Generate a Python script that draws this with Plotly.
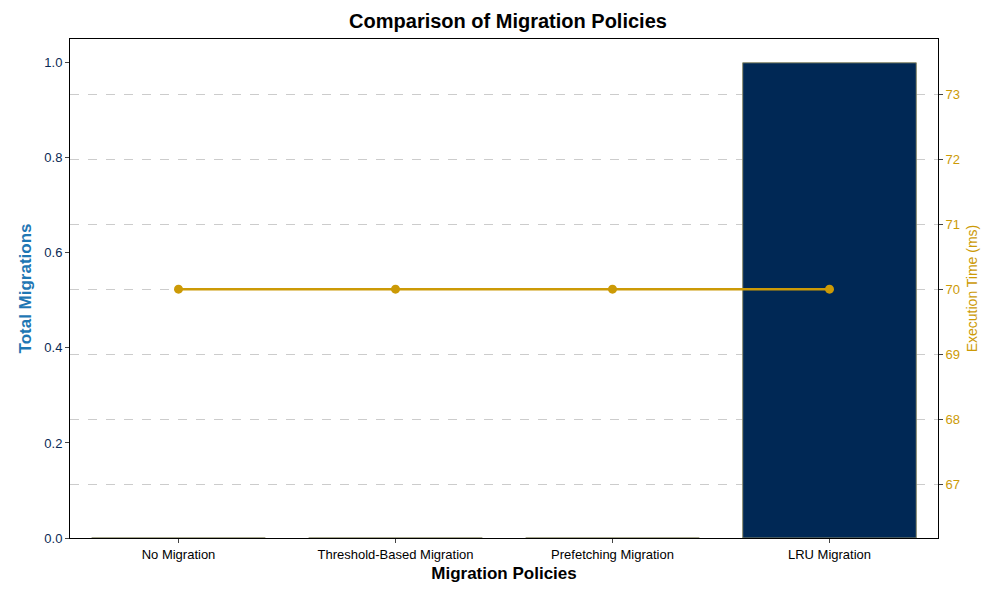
import plotly.graph_objects as go

policies = ["No Migration", "Threshold-Based Migration", "Prefetching Migration", "LRU Migration"]
migrations = [0, 0, 0, 1]
exec_time = [70, 70, 70, 70]

gold = "#CC9A06"
fig = go.Figure()
fig.add_trace(go.Bar(x=policies, y=migrations, marker=dict(color="#002855", line=dict(color="#8a8a6a", width=1)), width=0.8, yaxis="y"))
fig.add_trace(go.Scatter(x=policies, y=exec_time, mode="lines+markers", line=dict(color=gold, width=2.5), marker=dict(size=9, color=gold), yaxis="y2"))
fig.update_layout(
    width=1000, height=600, showlegend=False, plot_bgcolor="white", paper_bgcolor="white",
    font=dict(family="Liberation Sans, Arial", size=13, color="black"),
    margin=dict(l=62, r=70, t=31, b=70, autoexpand=False),
    title=dict(text="<b>Comparison of Migration Policies</b>", x=0.5, xanchor="center", y=0.99, yanchor="top", font=dict(size=20)),
    xaxis=dict(title=dict(text="<b>Migration Policies</b>", font=dict(size=17), standoff=6), showline=True, linecolor="black", mirror=True, ticks="outside", ticklen=4),
    yaxis=dict(title=dict(text="<b>Total Migrations</b>", font=dict(size=17, color="#1f77b4"), standoff=8), range=[0, 1.05], dtick=0.2, tickformat=".1f",
               showgrid=False, showline=True, linecolor="black", ticks="outside", ticklen=4, tickfont=dict(color="#0a2a55"), zeroline=False),
    yaxis2=dict(title=dict(text="Execution Time (ms)", font=dict(size=14, color=gold), standoff=8), overlaying="y", side="right", range=[66.17, 73.85], dtick=1,
                showgrid=True, gridcolor="#cccccc", griddash="dash", showline=True, linecolor="black", ticks="outside", ticklen=4, tickfont=dict(color=gold), zeroline=False),
)
fig.write_html("out.html")
